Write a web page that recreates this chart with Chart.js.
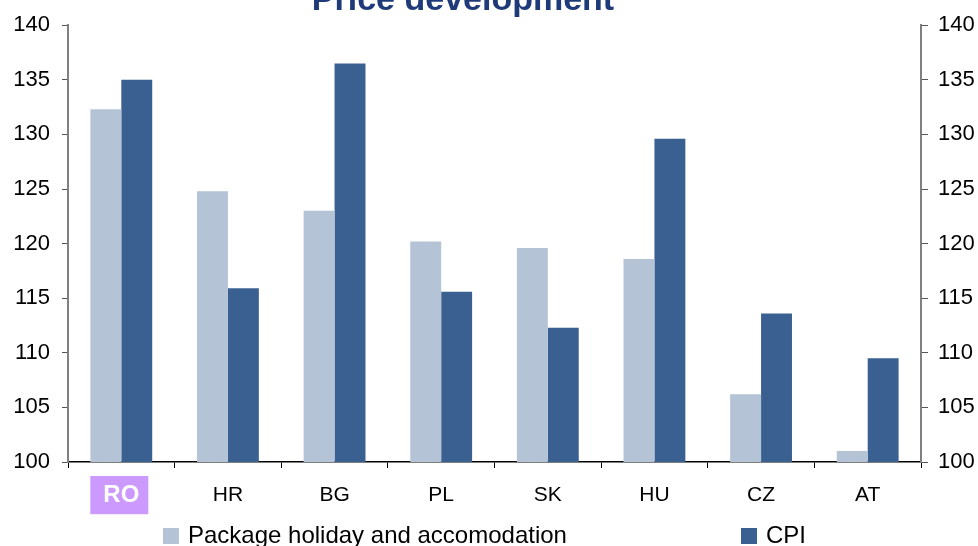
<!DOCTYPE html>
<html>
<head>
<meta charset="utf-8">
<script src="https://cdn.jsdelivr.net/npm/chart.js@4/dist/chart.umd.min.js"></script>
<style>
  html, body { margin: 0; padding: 0; background: #ffffff; }
  #wrap { width: 978px; height: 546px; position: relative; }
</style>
</head>
<body>
<div id="wrap"><canvas id="chart" width="978" height="546"></canvas></div>
<script>
// Price indices by country (base = 100)
const countries = ['RO', 'HR', 'BG', 'PL', 'SK', 'HU', 'CZ', 'AT'];
const packageHoliday = [132.3, 124.8, 123.0, 120.2, 119.6, 118.6, 106.2, 101.0];
const cpi = [135.0, 115.9, 136.5, 115.6, 112.3, 129.6, 113.6, 109.5];
const seriesNames = ['Package holiday and accomodation', 'CPI'];
const titleText = 'Price development';
const yMin = 100, yMax = 140, yStep = 5;

const FONT = "'Liberation Sans', Arial, Helvetica, sans-serif";
const PKG_COLOR = '#B4C3D6';
const CPI_COLOR = '#3A5F91';

// Title and legend are painted directly on the canvas
const decorations = {
  id: 'decorations',
  afterDraw(chart) {
    const ctx = chart.ctx;
    ctx.save();
    ctx.fillStyle = '#1F3A78';
    ctx.font = 'bold 34px ' + FONT;
    ctx.textAlign = 'center';
    ctx.textBaseline = 'alphabetic';
    ctx.fillText(titleText, 463, 10);

    const items = [
      { x: 163, label: chart.data.datasets[0].label, color: chart.data.datasets[0].backgroundColor },
      { x: 741, label: chart.data.datasets[1].label, color: chart.data.datasets[1].backgroundColor }
    ];
    ctx.font = '24px ' + FONT;
    ctx.textAlign = 'left';
    items.forEach(it => {
      ctx.fillStyle = it.color;
      ctx.fillRect(it.x, 528, 16, 16);
      ctx.fillStyle = '#000000';
      ctx.fillText(it.label, it.x + 25, 543);
    });
    ctx.restore();
  }
};

const yTicks = {
  stepSize: yStep,
  color: '#000000',
  font: { family: FONT, size: 22 },
};

new Chart(document.getElementById('chart'), {
  type: 'bar',
  data: {
    labels: countries,
    datasets: [
      { label: seriesNames[0], data: packageHoliday, backgroundColor: PKG_COLOR, yAxisID: 'y' },
      { label: seriesNames[1], data: cpi, backgroundColor: CPI_COLOR, yAxisID: 'y' }
    ]
  },
  options: {
    responsive: false,
    animation: false,
    devicePixelRatio: 1,
    layout: { padding: { top: 22, left: 0, right: 0, bottom: 0 } },
    datasets: { bar: { categoryPercentage: 0.58, barPercentage: 1.0 } },
    plugins: {
      legend: { display: false },
      title: { display: false },
      tooltip: { enabled: false }
    },
    scales: {
      x: {
        grid: { display: true, drawOnChartArea: false, drawTicks: true, tickLength: 6, color: '#000000', offset: true },
        border: { display: true, color: '#000000', width: 1.5 },
        ticks: {
          padding: 15,
          maxRotation: 0,
          color: c => c.index === 0 ? '#FFFFFF' : '#000000',
          font: c => c.index === 0
            ? { family: FONT, size: 24, weight: 'bold', lineHeight: 1.05 }
            : { family: FONT, size: 21, lineHeight: 1.2 },
          showLabelBackdrop: c => c.index === 0,
          backdropColor: '#CC99FF',
          backdropPadding: { left: 13, right: 9, top: 7, bottom: 6 }
        },
        afterFit: s => { s.height = 84; }
      },
      y: {
        position: 'left',
        min: yMin, max: yMax,
        grid: { display: true, drawOnChartArea: false, drawTicks: true, tickLength: 6, color: '#555555' },
        border: { display: true, color: '#808080', width: 2 },
        ticks: Object.assign({ padding: 12 }, yTicks),
        afterFit: s => { s.width = 68; }
      },
      y2: {
        position: 'right',
        min: yMin, max: yMax,
        grid: { display: true, drawOnChartArea: false, drawTicks: true, tickLength: 7, color: '#555555' },
        border: { display: true, color: '#808080', width: 2 },
        ticks: Object.assign({ padding: 10 }, yTicks),
        afterFit: s => { s.width = 57; }
      }
    }
  },
  plugins: [decorations]
});
</script>
</body>
</html>
